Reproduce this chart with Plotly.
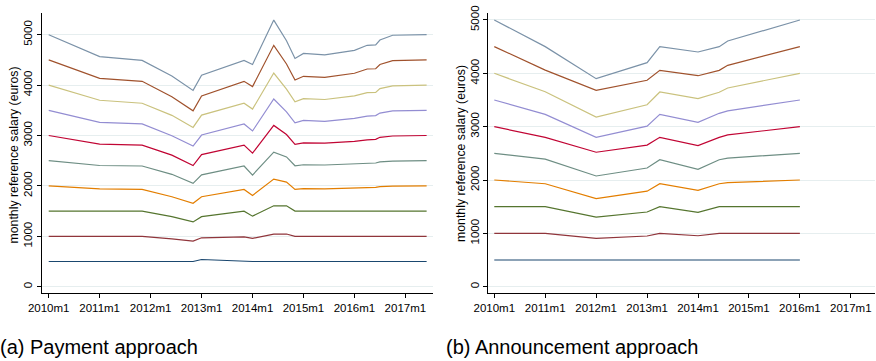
import plotly.graph_objects as go

# ---------------- data ----------------
years = ["2010m1", "2011m1", "2012m1", "2013m1", "2014m1", "2015m1", "2016m1", "2017m1"]
tick_months = [0, 12, 24, 36, 48, 60, 72, 84]

# months since 2010m1
pay_months = [0, 12, 22, 29, 34, 36, 46, 48, 53, 56, 58, 60, 65, 72, 75, 77, 78, 81, 89]
p5000 = [5000, 4565, 4490, 4180, 3895, 4195, 4490, 4410, 5290, 4880, 4530, 4630, 4600, 4690, 4790, 4800, 4895, 4990, 5000]
p4500 = [4500, 4135, 4075, 3770, 3490, 3785, 4075, 3970, 4790, 4420, 4100, 4175, 4155, 4235, 4320, 4325, 4410, 4485, 4500]
p4000 = [4000, 3700, 3640, 3400, 3160, 3405, 3640, 3525, 4240, 3920, 3670, 3730, 3715, 3785, 3850, 3855, 3930, 3985, 4000]
p3500 = [3500, 3260, 3230, 2995, 2790, 3010, 3230, 3090, 3725, 3470, 3250, 3300, 3280, 3340, 3385, 3395, 3445, 3490, 3500]
p3000 = [3000, 2830, 2810, 2610, 2405, 2620, 2810, 2650, 3200, 3020, 2825, 2855, 2850, 2885, 2915, 2925, 2965, 2990, 3000]
p2500 = [2500, 2405, 2395, 2230, 2050, 2220, 2395, 2215, 2670, 2575, 2400, 2420, 2415, 2435, 2450, 2455, 2475, 2490, 2500]
p2000 = [2000, 1940, 1930, 1785, 1655, 1785, 1930, 1810, 2135, 2075, 1930, 1945, 1940, 1950, 1965, 1970, 1985, 1995, 2000]
p1500 = [1500, 1500, 1500, 1390, 1285, 1390, 1500, 1400, 1605, 1605, 1500, 1500, 1500, 1500, 1500, 1500, 1500, 1500, 1500]
p1000 = [1000, 1000, 1000, 950, 905, 970, 990, 960, 1045, 1045, 1000, 1000, 1000, 1000, 1000, 1000, 1000, 1000, 1000]
p500 = [500, 500, 500, 500, 500, 540, 500, 500, 500, 500, 500, 500, 500, 500, 500, 500, 500, 500, 500]

ann_months = [0, 12, 24, 36, 39, 48, 53, 55, 72]
a5000 = [5000, 4500, 3900, 4200, 4500, 4400, 4500, 4605, 5000]
a4500 = [4500, 4060, 3680, 3870, 4055, 3955, 4055, 4150, 4500]
a4000 = [4000, 3655, 3180, 3410, 3650, 3525, 3645, 3725, 4000]
a3500 = [3500, 3230, 2800, 3010, 3230, 3080, 3250, 3295, 3500]
a3000 = [3000, 2800, 2520, 2655, 2800, 2645, 2800, 2845, 3000]
a2500 = [2500, 2390, 2075, 2225, 2380, 2200, 2380, 2410, 2500]
a2000 = [2000, 1930, 1650, 1790, 1930, 1805, 1930, 1950, 2000]
a1500 = [1500, 1500, 1305, 1400, 1500, 1395, 1500, 1500, 1500]
a1000 = [1000, 1000, 905, 950, 1000, 955, 1000, 1000, 1000]
a500 = [500, 500, 500, 500, 500, 500, 500, 500, 500]

pay_series = [p500, p1000, p1500, p2000, p2500, p3000, p3500, p4000, p4500, p5000]
ann_series = [a500, a1000, a1500, a2000, a2500, a3000, a3500, a4000, a4500, a5000]

# Stata s2color palette
colors = ["#1a476f", "#90353b", "#55752f", "#e37e00", "#6e8e84",
          "#c10534", "#938dd2", "#cac27e", "#a0522d", "#7b92a8"]

y_ticks = [0, 1000, 2000, 3000, 4000, 5000]
y_title = "monthly reference salary (euros)"
captions = ["(a) Payment approach", "(b) Announcement approach"]

# ---------------- figure ----------------
W, H = 876, 361
FONT = "Liberation Sans, Arial, sans-serif"

def px(x):
    return x / W

def py(y):
    return 1 - y / H

fig = go.Figure()
for vals, c in zip(pay_series, colors):
    fig.add_trace(go.Scatter(x=pay_months, y=vals, mode="lines",
                             line=dict(color=c, width=1.2), xaxis="x", yaxis="y",
                             showlegend=False, hoverinfo="skip"))
for vals, c in zip(ann_series, colors):
    fig.add_trace(go.Scatter(x=ann_months, y=vals, mode="lines",
                             line=dict(color=c, width=1.2), xaxis="x2", yaxis="y2",
                             showlegend=False, hoverinfo="skip"))

xcommon = dict(tickmode="array", tickvals=tick_months, ticktext=years,
               showline=True, linecolor="#000000", linewidth=1,
               ticks="outside", ticklen=4, tickcolor="#000000", tickwidth=1,
               showgrid=False, zeroline=False, automargin=False,
               tickfont=dict(family=FONT, size=11.5, color="#000000"))
ycommon = dict(tickmode="array", tickvals=y_ticks,
               showline=True, linecolor="#000000", linewidth=1,
               ticks="outside", ticklen=4, tickcolor="#000000", tickwidth=1,
               showgrid=True, gridcolor="#e6eeef", gridwidth=1,
               zeroline=False, automargin=False, tickangle=-90,
               tickfont=dict(family=FONT, size=11.5, color="#000000"))

fig.update_layout(
    width=W, height=H,
    margin=dict(l=0, r=0, t=0, b=0),
    paper_bgcolor="white", plot_bgcolor="white",
    xaxis=dict(xcommon, domain=[px(42), px(433)], range=[-1.58, 90.5], anchor="y"),
    yaxis=dict(ycommon, domain=[py(293.3), py(12.7)], range=[-131, 5437], anchor="x"),
    xaxis2=dict(xcommon, domain=[px(488.3), px(875)], range=[-1.41, 89.7], anchor="y2"),
    yaxis2=dict(ycommon, domain=[py(293.3), py(13.3)], range=[-124, 5125], anchor="x2"),
)

annotations = [
    dict(text=y_title, x=px(13.5), y=py(155), xref="paper", yref="paper",
         textangle=-90, showarrow=False, xanchor="center", yanchor="middle",
         font=dict(family=FONT, size=12.3, color="#000000")),
    dict(text=y_title, x=px(461.7), y=py(153.3), xref="paper", yref="paper",
         textangle=-90, showarrow=False, xanchor="center", yanchor="middle",
         font=dict(family=FONT, size=12.3, color="#000000")),
    dict(text=captions[0], x=px(-2), y=py(347), xref="paper", yref="paper",
         showarrow=False, xanchor="left", yanchor="middle",
         font=dict(family=FONT, size=20, color="#000000")),
    dict(text=captions[1], x=px(444), y=py(347), xref="paper", yref="paper",
         showarrow=False, xanchor="left", yanchor="middle",
         font=dict(family=FONT, size=20, color="#000000")),
]
fig.update_layout(annotations=annotations)

fig.write_html("out.html", config={"displayModeBar": False},
               post_script="document.body.style.margin='0';document.body.style.overflow='hidden';")
